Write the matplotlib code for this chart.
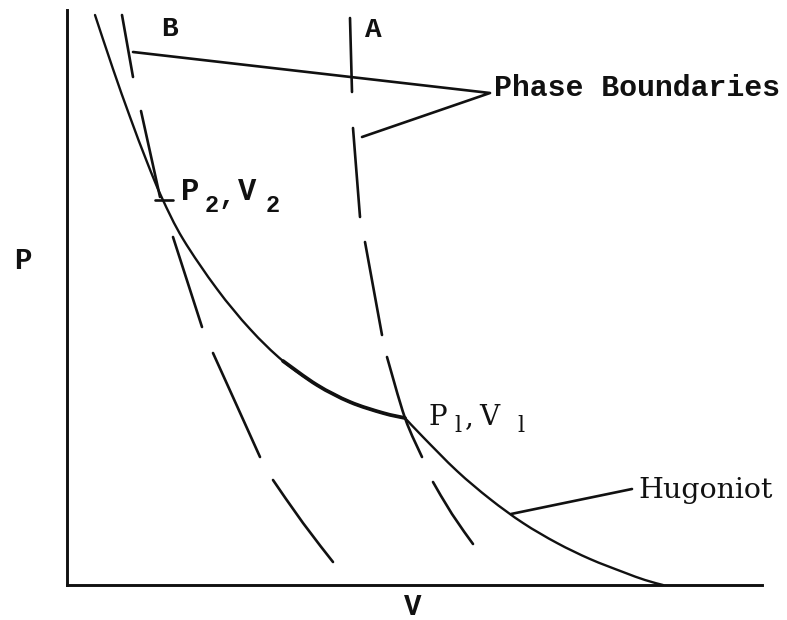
import matplotlib
matplotlib.use("Agg")
import matplotlib.pyplot as plt
import numpy as np
from matplotlib.path import Path
from matplotlib.patches import PathPatch

# Hugoniot curve, P against V (arbitrary units, origin at the axes corner)
# upper branch runs down to P1, V1; lower branch carries on to the V axis
hug_up_v = [28, 46, 63, 80, 95, 116, 150, 183, 216, 250, 283, 316, 338]
hug_up_p = [570, 516, 468, 423, 387, 346, 296, 256, 224, 200, 183, 172, 167]
hug_lo_v = [338, 356, 390, 423, 456, 490, 523, 556, 578, 596]
hug_lo_p = [167, 148, 114, 86, 62, 42, 26, 13, 5, 0]
# stretch leading into P1, V1 drawn heavier
heavy_v = [216, 250, 283, 316, 338]
heavy_p = [224, 200, 183, 172, 167]

# phase boundary B, one list per dash
b_v = [[55, 66], [74, 93], [106, 135], [146, 170, 193], [206, 236, 266]]
b_p = [[570, 508], [474, 388], [348, 258], [232, 179, 128], [105, 62, 23]]
# phase boundary A, one list per dash
a_v = [[283, 285], [286, 293], [298, 315], [320, 338, 355], [366, 385, 406]]
a_p = [[567, 493], [457, 368], [343, 250], [228, 167, 128], [103, 71, 41]]

p2 = (95, 385)
p1 = (338, 167)

INK = "#111111"
MONO = "Liberation Mono"
SERIF = "DejaVu Serif"


def smooth(vs, ps):
    """Cubic Bezier path through the points (Catmull-Rom tangents)."""
    pts = np.column_stack([vs, ps]).astype(float)
    if len(pts) < 3:
        return Path(pts)
    ext = np.vstack([pts[0], pts, pts[-1]])
    verts = [pts[0]]
    codes = [Path.MOVETO]
    for i in range(1, len(ext) - 2):
        c1 = ext[i] + (ext[i + 1] - ext[i - 1]) / 6
        c2 = ext[i + 1] - (ext[i + 2] - ext[i]) / 6
        verts += [c1, c2, ext[i + 1]]
        codes += [Path.CURVE4] * 3
    return Path(verts, codes)


fig = plt.figure(figsize=(7.87, 6.2), dpi=100, facecolor="white")
ax = fig.add_axes([67 / 787, 35 / 620, 695 / 787, 575 / 620])
ax.set_xlim(0, 695)
ax.set_ylim(0, 575)
ax.set_xticks([])
ax.set_yticks([])
for side in ("top", "right"):
    ax.spines[side].set_visible(False)
for side in ("left", "bottom"):
    ax.spines[side].set_linewidth(2.1)
    ax.spines[side].set_color(INK)


def curve(vs, ps, lw):
    ax.add_patch(PathPatch(smooth(vs, ps), fill=False, edgecolor=INK, lw=lw,
                           capstyle="round", joinstyle="round", clip_on=False))


curve(hug_up_v, hug_up_p, 1.7)
curve(hug_lo_v, hug_lo_p, 1.7)
curve(heavy_v, heavy_p, 2.7)

for vs, ps in zip(b_v, b_p):
    curve(vs, ps, 1.9)
for vs, ps in zip(a_v, a_p):
    curve(vs, ps, 1.9)

line = dict(color=INK, clip_on=False, solid_capstyle="round", solid_joinstyle="round")
# leader lines
ax.plot([66, 423, 295], [533, 492, 448], lw=1.9, **line)
ax.plot([444, 565], [71, 96], lw=1.9, **line)

# tick marking P2, V2
ax.plot([p2[0] - 7, p2[0] + 11], [p2[1], p2[1]], lw=1.9, **line)

mono = dict(color=INK, fontfamily=MONO, fontweight="bold")
serif = dict(color=INK, fontfamily=SERIF)

ax.text(102, 556, "B", ha="center", va="center", fontsize=20, **mono)
ax.text(306, 555, "A", ha="center", va="center", fontsize=20, **mono)
ax.text(427, 489, "Phase Boundaries", ha="left", va="baseline", fontsize=21.5, **mono)

# P2, V2 with lowered subscripts
ax.text(114, 385, "P", ha="left", va="baseline", fontsize=22, **mono)
ax.text(138, 373, "2", ha="left", va="baseline", fontsize=17, **mono)
ax.text(151, 381, ",", ha="left", va="baseline", fontsize=20, **mono)
ax.text(171, 385, "V", ha="left", va="baseline", fontsize=22, **mono)
ax.text(199, 373, "2", ha="left", va="baseline", fontsize=17, **mono)

# P1, V1 with lowered subscripts
ax.text(361, 160, "P", ha="left", va="baseline", fontsize=20, **serif)
ax.text(387, 153, "l", ha="left", va="baseline", fontsize=16, **serif)
ax.text(398, 160, ",", ha="left", va="baseline", fontsize=20, **serif)
ax.text(412, 160, "V", ha="left", va="baseline", fontsize=20, **serif)
ax.text(450, 153, "l", ha="left", va="baseline", fontsize=16, **serif)

ax.text(571, 87, "Hugoniot", ha="left", va="baseline", fontsize=20.5, **serif)

ax.text(-44, 324, "P", ha="center", va="center", fontsize=21, **mono)
ax.text(346, -22, "V", ha="center", va="center", fontsize=21, **mono)

fig.savefig("out.png", dpi=100, facecolor="white")
